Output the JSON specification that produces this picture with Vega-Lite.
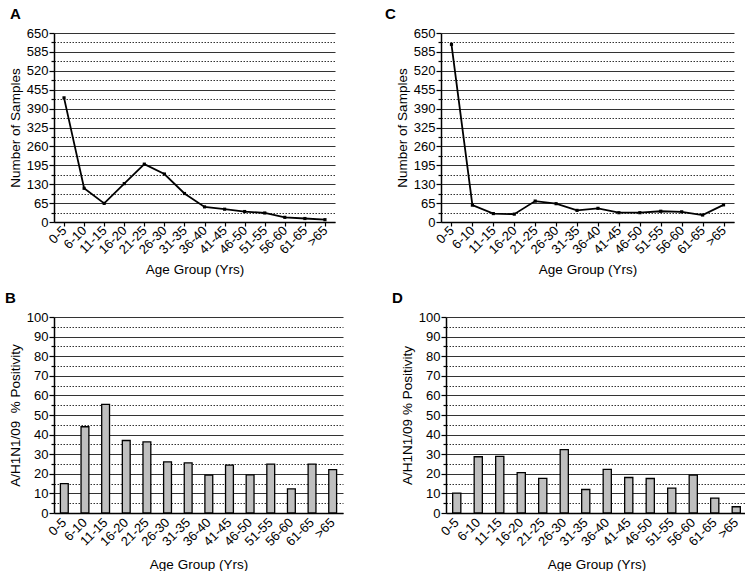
{
  "$schema": "https://vega.github.io/schema/vega-lite/v6.json",
  "padding": {"left": 5, "top": 7, "right": 0, "bottom": 0},
  "config": {
    "font": "Liberation Sans",
    "view": {"stroke": null},
    "axis": {
      "labelFont": "Liberation Sans", "titleFont": "Liberation Sans",
      "labelColor": "black", "titleColor": "black",
      "labelFontSize": 13, "titleFontSize": 13.5, "titleFontWeight": "normal",
      "domainColor": "black", "domainWidth": 1.5,
      "tickColor": "black", "tickWidth": 1.2
    },
    "title": {"fontSize": 15, "fontWeight": "bold", "anchor": "start", "frame": "group", "color": "black", "font": "Liberation Sans"}
  },
  "datasets": {
    "a": [
      {"age": "0-5", "n": 427}, {"age": "6-10", "n": 116}, {"age": "11-15", "n": 64},
      {"age": "16-20", "n": 132}, {"age": "21-25", "n": 199}, {"age": "26-30", "n": 165},
      {"age": "31-35", "n": 98}, {"age": "36-40", "n": 52}, {"age": "41-45", "n": 44},
      {"age": "46-50", "n": 36}, {"age": "51-55", "n": 31}, {"age": "56-60", "n": 16},
      {"age": "61-65", "n": 12}, {"age": ">65", "n": 8}
    ],
    "c": [
      {"age": "0-5", "n": 611}, {"age": "6-10", "n": 58}, {"age": "11-15", "n": 29},
      {"age": "16-20", "n": 27}, {"age": "21-25", "n": 72}, {"age": "26-30", "n": 63},
      {"age": "31-35", "n": 40}, {"age": "36-40", "n": 47}, {"age": "41-45", "n": 32},
      {"age": "46-50", "n": 32}, {"age": "51-55", "n": 37}, {"age": "56-60", "n": 35},
      {"age": "61-65", "n": 24}, {"age": ">65", "n": 59}
    ],
    "b": [
      {"age": "0-5", "p": 15}, {"age": "6-10", "p": 44}, {"age": "11-15", "p": 55.4},
      {"age": "16-20", "p": 37}, {"age": "21-25", "p": 36.3}, {"age": "26-30", "p": 26.1},
      {"age": "31-35", "p": 25.6}, {"age": "36-40", "p": 19.3}, {"age": "41-45", "p": 24.4},
      {"age": "46-50", "p": 19.5}, {"age": "51-55", "p": 24.9}, {"age": "56-60", "p": 12.3},
      {"age": "61-65", "p": 24.9}, {"age": ">65", "p": 22.1}
    ],
    "d": [
      {"age": "0-5", "p": 10.1}, {"age": "6-10", "p": 28.7}, {"age": "11-15", "p": 28.9},
      {"age": "16-20", "p": 20.6}, {"age": "21-25", "p": 17.7}, {"age": "26-30", "p": 32.3},
      {"age": "31-35", "p": 12}, {"age": "36-40", "p": 22.3}, {"age": "41-45", "p": 18.1},
      {"age": "46-50", "p": 17.6}, {"age": "51-55", "p": 12.7}, {"age": "56-60", "p": 19.3},
      {"age": "61-65", "p": 7.6}, {"age": ">65", "p": 3.2}
    ]
  },
  "spacing": 15,
  "vconcat": [
    {
      "spacing": 50,
      "hconcat": [
        {
          "title": {"text": "A", "dx": -44, "offset": 5},
          "width": 281, "height": 189,
          "data": {"name": "a"},
          "mark": {"type": "line", "color": "black", "strokeWidth": 1.8, "point": {"shape": "square", "size": 10, "fill": "black", "color": "black"}},
          "encoding": {
            "x": {"field": "age", "type": "nominal", "sort": ["0-5","6-10","11-15","16-20","21-25","26-30","31-35","36-40","41-45","46-50","51-55","56-60","61-65",">65"],
              "axis": {"title": "Age Group (Yrs)", "labelAngle": -45, "labelAlign": "right", "labelBaseline": "middle", "tickSize": 4, "labelPadding": 2, "titlePadding": 6}},
            "y": {"field": "n", "type": "quantitative", "scale": {"domain": [0, 650], "nice": false},
              "axis": {"title": "Number of Samples", "titlePadding": 4,
                "values": [0,32.5,65,97.5,130,162.5,195,227.5,260,292.5,325,357.5,390,422.5,455,487.5,520,552.5,585,617.5,650],
                "labelOverlap": false, "labelPadding": 1,
                "labelExpr": "datum.value % 65 === 0 ? datum.label : ''",
                "tickSize": {"condition": {"test": "datum.value % 65 === 0", "value": 5}, "value": 3},
                "grid": true, "gridColor": "#333", "gridWidth": 1,
                "gridDash": {"condition": {"test": "datum.value % 65 === 0", "value": []}, "value": [1.5, 1.5]}}}
          }
        },
        {
          "title": {"text": "C", "dx": -56, "offset": 5},
          "width": 293, "height": 189,
          "data": {"name": "c"},
          "mark": {"type": "line", "color": "black", "strokeWidth": 1.8, "point": {"shape": "square", "size": 10, "fill": "black", "color": "black"}},
          "encoding": {
            "x": {"field": "age", "type": "nominal", "sort": ["0-5","6-10","11-15","16-20","21-25","26-30","31-35","36-40","41-45","46-50","51-55","56-60","61-65",">65"],
              "axis": {"title": "Age Group (Yrs)", "labelAngle": -45, "labelAlign": "right", "labelBaseline": "middle", "tickSize": 4, "labelPadding": 2, "titlePadding": 6}},
            "y": {"field": "n", "type": "quantitative", "scale": {"domain": [0, 650], "nice": false},
              "axis": {"title": "Number of Samples", "titlePadding": 4,
                "values": [0,32.5,65,97.5,130,162.5,195,227.5,260,292.5,325,357.5,390,422.5,455,487.5,520,552.5,585,617.5,650],
                "labelOverlap": false, "labelPadding": 1,
                "labelExpr": "datum.value % 65 === 0 ? datum.label : ''",
                "tickSize": {"condition": {"test": "datum.value % 65 === 0", "value": 5}, "value": 3},
                "grid": true, "gridColor": "#333", "gridWidth": 1,
                "gridDash": {"condition": {"test": "datum.value % 65 === 0", "value": []}, "value": [1.5, 1.5]}}}
          }
        }
      ]
    },
    {
      "spacing": 49,
      "hconcat": [
        {
          "title": {"text": "B", "dx": -49, "offset": 5},
          "width": 289, "height": 196,
          "data": {"name": "b"},
          "mark": {"type": "bar", "fill": "#bfbfbf", "stroke": "black", "strokeWidth": 1.3},
          "encoding": {
            "x": {"field": "age", "type": "nominal", "sort": ["0-5","6-10","11-15","16-20","21-25","26-30","31-35","36-40","41-45","46-50","51-55","56-60","61-65",">65"],
              "scale": {"paddingInner": 0.62, "paddingOuter": 0.31},
              "axis": {"title": "Age Group (Yrs)", "labelAngle": -45, "labelAlign": "right", "labelBaseline": "middle", "ticks": false, "labelPadding": 7, "titlePadding": 9}},
            "y": {"field": "p", "type": "quantitative", "scale": {"domain": [0, 100], "nice": false},
              "axis": {"title": "A/H1N1/09\u00a0 % Positivity", "titlePadding": 4,
                "values": [0,5,10,15,20,25,30,35,40,45,50,55,60,65,70,75,80,85,90,95,100],
                "labelOverlap": false, "labelPadding": 1,
                "labelExpr": "datum.value % 10 === 0 ? datum.label : ''",
                "tickSize": {"condition": {"test": "datum.value % 10 === 0", "value": 5}, "value": 3},
                "grid": true, "gridColor": "#333", "gridWidth": 1,
                "gridDash": {"condition": {"test": "datum.value % 10 === 0", "value": []}, "value": [1.5, 1.5]}}}
          }
        },
        {
          "title": {"text": "D", "dx": -54, "offset": 5},
          "width": 301, "height": 196,
          "data": {"name": "d"},
          "mark": {"type": "bar", "fill": "#bfbfbf", "stroke": "black", "strokeWidth": 1.3},
          "encoding": {
            "x": {"field": "age", "type": "nominal", "sort": ["0-5","6-10","11-15","16-20","21-25","26-30","31-35","36-40","41-45","46-50","51-55","56-60","61-65",">65"],
              "scale": {"paddingInner": 0.62, "paddingOuter": 0.31},
              "axis": {"title": "Age Group (Yrs)", "labelAngle": -45, "labelAlign": "right", "labelBaseline": "middle", "ticks": false, "labelPadding": 7, "titlePadding": 9}},
            "y": {"field": "p", "type": "quantitative", "scale": {"domain": [0, 100], "nice": false},
              "axis": {"title": "A/H1N1/09 % Positivity", "titlePadding": 4,
                "values": [0,5,10,15,20,25,30,35,40,45,50,55,60,65,70,75,80,85,90,95,100],
                "labelOverlap": false, "labelPadding": 1,
                "labelExpr": "datum.value % 10 === 0 ? datum.label : ''",
                "tickSize": {"condition": {"test": "datum.value % 10 === 0", "value": 5}, "value": 3},
                "grid": true, "gridColor": "#333", "gridWidth": 1,
                "gridDash": {"condition": {"test": "datum.value % 10 === 0", "value": []}, "value": [1.5, 1.5]}}}
          }
        }
      ]
    }
  ]
}
